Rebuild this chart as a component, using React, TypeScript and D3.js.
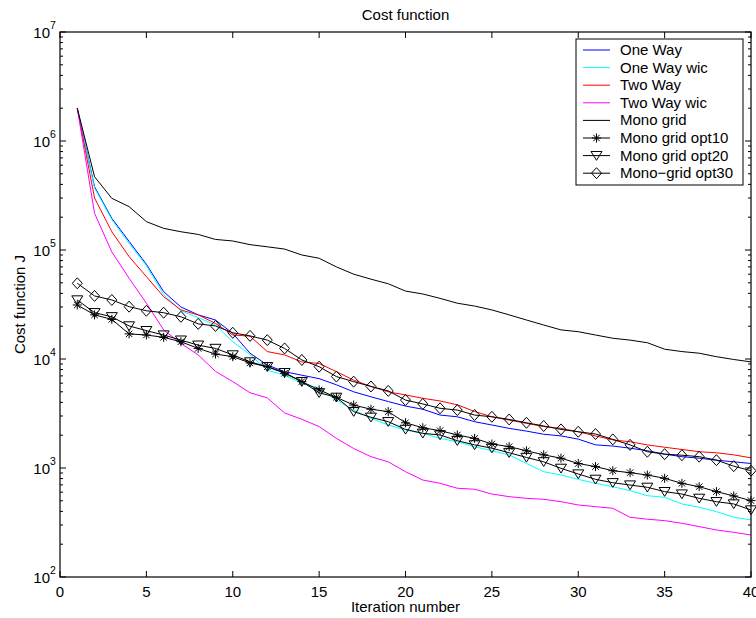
import React from "react";
import * as d3 from "d3";

const iterations = d3.range(1, 41);

const oneWay = [2e6, 3.8e5, 1.95e5, 1.2e5, 7.4e4, 4.15e4, 3.0e4, 2.54e4, 2.28e4, 1.72e4,
  1.13e4, 8.8e3, 7.65e3, 7.1e3, 6.6e3, 5.8e3, 5.0e3, 4.5e3, 4.07e3, 3.7e3,
  3.46e3, 3.06e3, 2.95e3, 2.66e3, 2.48e3, 2.31e3, 2.18e3, 2.04e3, 1.97e3, 1.84e3,
  1.63e3, 1.59e3, 1.52e3, 1.44e3, 1.34e3, 1.27e3, 1.23e3, 1.18e3, 1.14e3, 1.1e3];
const oneWayWic = [2e6, 3.7e5, 1.9e5, 1.15e5, 7.2e4, 3.9e4, 2.77e4, 2.4e4, 2.05e4, 1.44e4,
  1.1e4, 7.9e3, 7.1e3, 6.0e3, 5.4e3, 4.2e3, 3.4e3, 2.86e3, 2.48e3, 2.23e3,
  2.08e3, 1.87e3, 1.74e3, 1.57e3, 1.44e3, 1.32e3, 1.1e3, 925, 862, 787,
  723, 674, 620, 557, 538, 468, 436, 398, 353, 334];
const twoWay = [2e6, 3.0e5, 1.47e5, 8.7e4, 5.7e4, 3.73e4, 2.82e4, 2.54e4, 2.12e4, 1.66e4,
  1.62e4, 1.17e4, 1.09e4, 9.4e3, 9.1e3, 7.65e3, 6.4e3, 5.6e3, 5.0e3, 4.68e3,
  4.36e3, 4.12e3, 3.8e3, 3.3e3, 2.95e3, 2.75e3, 2.57e3, 2.4e3, 2.31e3, 2.15e3,
  1.97e3, 1.81e3, 1.74e3, 1.63e3, 1.55e3, 1.48e3, 1.41e3, 1.38e3, 1.32e3, 1.24e3];
const twoWayWic = [2e6, 2.17e5, 9.6e4, 5.5e4, 3.25e4, 1.85e4, 1.39e4, 1.09e4, 7.7e3, 6.2e3,
  4.9e3, 4.4e3, 3.2e3, 2.8e3, 2.4e3, 1.87e3, 1.51e3, 1.27e3, 1.14e3, 925,
  776, 724, 652, 638, 577, 546, 527, 516, 491, 458,
  442, 427, 353, 339, 329, 311, 290, 270, 257, 243];
const monoGrid = [2e6, 4.7e5, 2.98e5, 2.5e5, 1.82e5, 1.58e5, 1.47e5, 1.39e5, 1.25e5, 1.21e5,
  1.12e5, 1.07e5, 1.02e5, 9.0e4, 8.4e4, 7.0e4, 6.0e4, 5.4e4, 4.9e4, 4.2e4,
  3.95e4, 3.6e4, 3.25e4, 3.06e4, 2.82e4, 2.54e4, 2.28e4, 2.05e4, 1.85e4, 1.78e4,
  1.66e4, 1.55e4, 1.49e4, 1.41e4, 1.23e4, 1.17e4, 1.13e4, 1.05e4, 9.9e3, 9.4e3];
const monoOpt10 = [3.13e4, 2.54e4, 2.31e4, 1.7e4, 1.66e4, 1.58e4, 1.44e4, 1.25e4, 1.11e4, 1.05e4,
  9.2e3, 8.5e3, 7.4e3, 6.2e3, 5.2e3, 4.45e3, 3.78e3, 3.46e3, 3.29e3, 2.6e3,
  2.34e3, 2.2e3, 2.01e3, 1.87e3, 1.66e3, 1.57e3, 1.44e3, 1.32e3, 1.23e3, 1.1e3,
  1.03e3, 944, 906, 862, 804, 723, 674, 607, 554, 502];
const monoOpt20 = [3.48e4, 2.66e4, 2.44e4, 2.01e4, 1.82e4, 1.66e4, 1.49e4, 1.34e4, 1.25e4, 1.09e4,
  9.4e3, 8.5e3, 7.5e3, 6.2e3, 4.9e3, 4.45e3, 3.29e3, 2.92e3, 2.66e3, 2.26e3,
  2.08e3, 2.01e3, 1.78e3, 1.63e3, 1.52e3, 1.38e3, 1.25e3, 1.14e3, 993, 881,
  787, 733, 698, 665, 607, 577, 527, 491, 468, 412];
const monoOpt30 = [4.95e4, 3.79e4, 3.48e4, 3.02e4, 2.77e4, 2.66e4, 2.44e4, 2.1e4, 2.01e4, 1.74e4,
  1.63e4, 1.49e4, 1.25e4, 9.8e3, 8.5e3, 6.9e3, 6.2e3, 5.6e3, 5.1e3, 4.2e3,
  3.87e3, 3.53e3, 3.4e3, 3.06e3, 2.95e3, 2.79e3, 2.6e3, 2.43e3, 2.26e3, 2.15e3,
  2.05e3, 1.83e3, 1.63e3, 1.41e3, 1.34e3, 1.31e3, 1.27e3, 1.18e3, 1.04e3, 944];

const seriesNames = ["One Way", "One Way wic", "Two Way", "Two Way wic", "Mono grid",
  "Mono grid opt10", "Mono grid opt20", "Mono\u2212grid opt30"];
const seriesValues = [oneWay, oneWayWic, twoWay, twoWayWic, monoGrid, monoOpt10, monoOpt20, monoOpt30];
const seriesColors = ["#0000ff", "#00ffff", "#ff0000", "#ff00ff", "#000000", "#000000", "#000000", "#000000"];
const seriesMarkers = ["none", "none", "none", "none", "none", "star", "tri", "diamond"];

const xTicks = [0, 5, 10, 15, 20, 25, 30, 35, 40];
const yExponents = [2, 3, 4, 5, 6, 7];

const W = 756, H = 618;
const L = 60, R = 751, T = 32, B = 577;
const FONT = "'Liberation Sans', Arial, Helvetica, sans-serif";
const FS = 15;

function Marker({ kind, x, y }: { kind: string; x: number; y: number }) {
  if (kind === "star") {
    const r = 4.5, d = 3.2;
    return (
      <g stroke="#000" strokeWidth={1}>
        <line x1={x - r} y1={y} x2={x + r} y2={y} />
        <line x1={x} y1={y - r} x2={x} y2={y + r} />
        <line x1={x - d} y1={y - d} x2={x + d} y2={y + d} />
        <line x1={x - d} y1={y + d} x2={x + d} y2={y - d} />
      </g>
    );
  }
  if (kind === "tri") {
    const r = 5.5;
    return <path d={`M${x - r},${y - r * 0.75}L${x + r},${y - r * 0.75}L${x},${y + r * 0.85}Z`} fill="none" stroke="#000" strokeWidth={1} />;
  }
  if (kind === "diamond") {
    const rx = 5, ry = 5.5;
    return <path d={`M${x},${y - ry}L${x + rx},${y}L${x},${y + ry}L${x - rx},${y}Z`} fill="none" stroke="#000" strokeWidth={1} />;
  }
  return null;
}

export default function App() {
  const x = d3.scaleLinear().domain([0, 40]).range([L, R]);
  const y = d3.scaleLog().domain([100, 1e7]).range([B, T]);
  const line = d3.line<number>().x((_, i) => x(iterations[i])).y((v) => y(v));

  const minorTicks: number[] = [];
  for (let e = 2; e < 7; e++) for (let m = 2; m <= 9; m++) minorTicks.push(m * Math.pow(10, e));

  const legX = 576, legY = 39, legW = 167, legH = 146, rowH = 17.6;

  return (
    <svg width={W} height={H} style={{ position: "absolute", left: 0, top: 0, background: "#fff" }} fontFamily={FONT}>
      <rect x={0} y={0} width={W} height={H} fill="#fff" />
      <defs>
        <clipPath id="plotclip"><rect x={L} y={T} width={R - L} height={B - T} /></clipPath>
      </defs>
      <g clipPath="url(#plotclip)">
        {seriesValues.map((vals, si) => (
          <path key={si} d={line(vals) || ""} fill="none" stroke={seriesColors[si]} strokeWidth={1} />
        ))}
      </g>
      {seriesValues.map((vals, si) =>
        seriesMarkers[si] === "none" ? null : (
          <g key={"m" + si}>
            {vals.map((v, i) => <Marker key={i} kind={seriesMarkers[si]} x={x(iterations[i])} y={y(v)} />)}
          </g>
        )
      )}
      <rect x={L} y={T} width={R - L} height={B - T} fill="none" stroke="#000" strokeWidth={1.2} />
      {xTicks.map((t) => (
        <g key={"xt" + t}>
          <line x1={x(t)} x2={x(t)} y1={B} y2={B - 6} stroke="#000" />
          <line x1={x(t)} x2={x(t)} y1={T} y2={T + 6} stroke="#000" />
          <text x={x(t)} y={597} textAnchor="middle" fontSize={FS}>{t}</text>
        </g>
      ))}
      {yExponents.map((e) => {
        const yy = y(Math.pow(10, e));
        return (
          <g key={"ye" + e}>
            <line x1={L} x2={L + 6} y1={yy} y2={yy} stroke="#000" />
            <line x1={R} x2={R - 6} y1={yy} y2={yy} stroke="#000" />
            <text x={50} y={yy + 6} textAnchor="end" fontSize={FS}>10</text>
            <text x={50} y={yy - 3.5} textAnchor="start" fontSize={10.5}>{e}</text>
          </g>
        );
      })}
      {minorTicks.map((v) => (
        <g key={"mt" + v}>
          <line x1={L} x2={L + 3} y1={y(v)} y2={y(v)} stroke="#000" />
          <line x1={R} x2={R - 3} y1={y(v)} y2={y(v)} stroke="#000" />
        </g>
      ))}
      <text x={(L + R) / 2} y={20} textAnchor="middle" fontSize={FS}>Cost function</text>
      <text x={(L + R) / 2} y={612} textAnchor="middle" fontSize={FS}>Iteration number</text>
      <text transform={`translate(25,${(T + B) / 2}) rotate(-90)`} textAnchor="middle" fontSize={FS}>Cost function J</text>
      <rect x={legX} y={legY} width={legW} height={legH} fill="#fff" stroke="#000" strokeWidth={1} />
      {seriesNames.map((name, i) => {
        const ry = legY + 11 + i * rowH;
        return (
          <g key={"lg" + i}>
            <line x1={583} x2={610} y1={ry} y2={ry} stroke={seriesColors[i]} strokeWidth={1} />
            <Marker kind={seriesMarkers[i]} x={596.5} y={ry} />
            <text x={620} y={ry + 5} fontSize={FS}>{name}</text>
          </g>
        );
      })}
    </svg>
  );
}
